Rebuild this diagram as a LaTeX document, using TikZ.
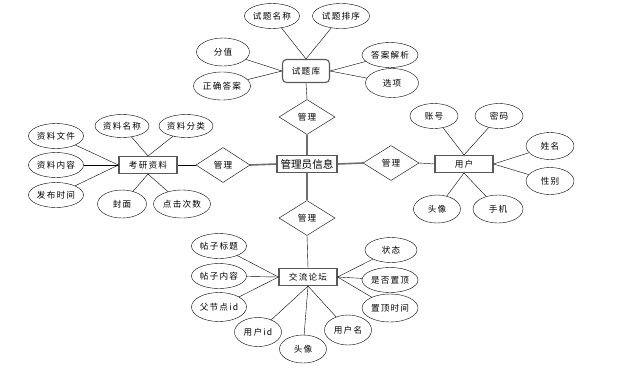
\documentclass[tikz,border=0pt]{standalone}
\usepackage{fontspec}
\setmainfont{Noto Sans CJK SC}
\newfontfamily\spaced[LetterSpace=14]{Noto Sans CJK SC}
\usetikzlibrary{shapes.geometric}
\definecolor{Frame}{HTML}{5A5A5A}
\definecolor{Link}{HTML}{6E6E6E}

\begin{document}
\begin{tikzpicture}[x=1pt,y=-1pt,font=\spaced\fontsize{8.6}{10}\selectfont,
    attr/.style={draw,ellipse,thin,minimum width=54pt,minimum height=25pt,inner sep=0pt},
    ent/.style={draw=Frame,line width=1.1pt,minimum width=58pt,minimum height=17pt,inner sep=0pt},
    rel/.style={draw,diamond,thin,minimum width=56pt,minimum height=35pt,inner sep=0pt},
    hub/.style={draw=Link,line width=1.6pt},
    edge/.style={draw,thin}]
  \useasboundingbox (0,0) rectangle (639,373);
  % entities
  \node[ent,minimum width=60pt,font=\rmfamily\fontsize{10.6}{12}\selectfont] (gly) at (307,164) {管理员信息};
  \node[ent,rounded corners=4pt,minimum width=47pt,minimum height=23pt] (tk) at (306,71) {试题库};
  \node[ent] (kyzl) at (148,165) {考研资料};
  \node[ent] (yh) at (464,164) {用户};
  \node[ent] (jllt) at (308,277) {交流论坛};
  % relations
  \node[rel] (rtop) at (307,117) {管理};
  \node[rel,minimum width=54pt] (rleft) at (223,165) {管理};
  \node[rel] (rright) at (391,163) {管理};
  \node[rel] (rbot) at (307,218) {管理};
  % attributes of 试题库
  \node[attr,minimum width=55pt] (stmc) at (272,16) {试题名称};
  \node[attr,minimum width=57pt] (stpx) at (341,16) {试题排序};
  \node[attr,minimum width=53pt,minimum height=28pt] (fz) at (223,52) {分值};
  \node[attr,minimum width=57pt,minimum height=28pt] (zqda) at (222,86) {正确答案};
  \node[attr,minimum width=56pt] (dajx) at (390,55) {答案解析};
  \node[attr,minimum width=53pt,minimum height=29pt] (xx) at (392,83) {选项};
  % attributes of 考研资料
  \node[attr,minimum height=23pt] (zlmc) at (122,126) {资料名称};
  \node[attr,minimum height=23pt] (zlfl) at (186,126) {资料分类};
  \node[attr,minimum width=55pt] (zlwj) at (56,136) {资料文件};
  \node[attr,minimum width=55pt] (zlnr) at (56,165) {资料内容};
  \node[attr,minimum width=55pt] (fbsj) at (56,195) {发布时间};
  \node[attr,minimum width=49pt,minimum height=28pt] (fm) at (122,204) {封面};
  \node[attr,minimum width=57pt,minimum height=28pt] (djcs) at (182,204) {点击次数};
  % attributes of 用户
  \node[attr,minimum width=48pt] (zh) at (434,116) {账号};
  \node[attr,minimum width=48pt] (mm) at (499,116) {密码};
  \node[attr,minimum width=48pt,minimum height=27pt] (xm) at (550,146) {姓名};
  \node[attr,minimum width=48pt,minimum height=27pt] (xb) at (550,181) {性别};
  \node[attr,minimum width=47pt,minimum height=28pt] (tx) at (437,209) {头像};
  \node[attr,minimum width=50pt,minimum height=28pt] (sj) at (498,209) {手机};
  % attributes of 交流论坛
  \node[attr,minimum width=55pt] (tzbt) at (219,246) {帖子标题};
  \node[attr,minimum width=55pt] (tznr) at (219,276) {帖子内容};
  \node[attr,minimum width=55pt,minimum height=29pt] (fjd) at (219,307) {父节点id};
  \node[attr,minimum width=47pt,minimum height=29pt] (yhid) at (258,332) {用户id};
  \node[attr,minimum width=47pt,minimum height=28pt] (ltx) at (303,349) {头像};
  \node[attr,minimum width=47pt,minimum height=30pt] (yhm) at (348,330) {用户名};
  \node[attr,minimum width=52pt] (zt) at (391,250) {状态};
  \node[attr,minimum width=56pt] (sfzd) at (390,280) {是否置顶};
  \node[attr,minimum width=56pt,minimum height=28pt] (zdsj) at (390,308) {置顶时间};
  % hub links
  \draw[hub] (gly.north) -- (rtop.south);
  \draw[hub] (gly.west) -- (rleft.east);
  \draw[hub] (gly.east) -- (rright.west);
  \draw[hub] (gly.south) -- (rbot.north);
  \draw[edge] (rtop.north) -- (tk.south);
  \draw[edge] (rleft.west) -- (kyzl.east);
  \draw[edge] (rright.east) -- (yh.west);
  \draw[edge] (rbot.south) -- (jllt.north);
  % attribute links
  \foreach \a in {stmc,stpx}{\draw[edge] (\a) -- (tk.north);}
  \foreach \a in {fz,zqda}{\draw[edge] (\a) -- (tk.west);}
  \foreach \a in {dajx,xx}{\draw[edge] (\a) -- (tk.east);}
  \foreach \a in {zlmc,zlfl}{\draw[edge] (\a) -- (kyzl.north);}
  \foreach \a in {zlwj,zlnr,fbsj}{\draw[edge] (\a) -- (kyzl.west);}
  \foreach \a in {fm,djcs}{\draw[edge] (\a) -- (kyzl.south);}
  \foreach \a in {zh,mm}{\draw[edge] (\a) -- (yh.north);}
  \foreach \a in {xm,xb}{\draw[edge] (\a) -- (yh.east);}
  \foreach \a in {tx,sj}{\draw[edge] (\a) -- (yh.south);}
  \foreach \a in {tzbt,tznr,fjd}{\draw[edge] (\a) -- (jllt.west);}
  \foreach \a in {zt,sfzd,zdsj}{\draw[edge] (\a) -- (jllt.east);}
  \foreach \a in {yhid,ltx,yhm}{\draw[edge] (\a) -- (jllt.south);}
\end{tikzpicture}
\end{document}
